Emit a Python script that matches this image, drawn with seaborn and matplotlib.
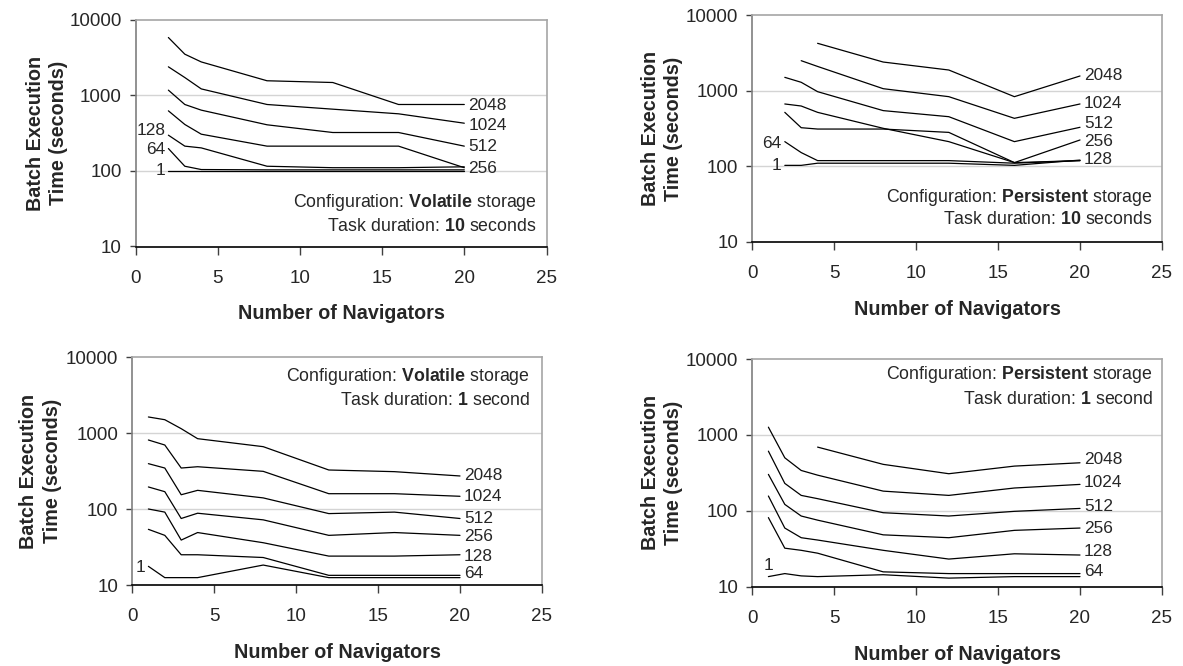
import numpy as np
import pandas as pd
import matplotlib
matplotlib.use("Agg")
import matplotlib.pyplot as plt
from matplotlib.ticker import NullLocator
import seaborn as sns

# ---------------- data ----------------
tasks = [2048, 1024, 512, 256, 128, 64, 1]
nav_10s = [2, 3, 4, 8, 12, 16, 20]
nav_1s = [1, 2, 3, 4, 8, 12, 16, 20]
nan = np.nan

# Volatile storage, 10 s tasks
vol10_2048 = [5780, 3480, 2750, 1550, 1470, 753, 753]
vol10_1024 = [2370, 1710, 1210, 753, 653, 567, 426]
vol10_512 = [1165, 753, 634, 406, 321, 321, 212]
vol10_256 = [621, 410, 305, 212, 212, 212, 110]
vol10_128 = [296, 212, 201, 115, 110, 110, 113]
vol10_64 = [197, 115, 104, 103, 103, 103, 103]
vol10_1 = [101, 101, 101, 101, 101, 101, 101]

# Persistent storage, 10 s tasks
per10_2048 = [nan, nan, 4225, 2390, 1875, 833, 1563]
per10_1024 = [nan, 2490, 2090, 1062, 833, 431, 667]
per10_512 = [1500, 1290, 970, 545, 453, 212, 328]
per10_256 = [667, 627, 517, 318, 212, 112, 223]
per10_128 = [517, 324, 311, 311, 281, 112, 119]
per10_64 = [212, 152, 119, 119, 119, 110, 119]
per10_1 = [103, 103, 110, 110, 110, 103, 121]

# Volatile storage, 1 s tasks
vol1_2048 = [1625, 1496, 1140, 842, 661, 326, 310, 272]
vol1_1024 = [809, 695, 346, 360, 313, 159, 159, 147]
vol1_512 = [395, 346, 154, 176, 140, 87, 91, 75]
vol1_256 = [195, 169, 75, 88, 72, 45, 49, 45]
vol1_128 = [100, 91, 39, 49, 36, 24, 24, 25]
vol1_64 = [54, 45, 25, 25, 23, 13.4, 13.4, 13.4]
vol1_1 = [17.6, 12.5, 12.5, 12.5, 18.3, 12.5, 12.5, 12.5]

# Persistent storage, 1 s tasks
per1_2048 = [nan, nan, nan, 689, 408, 307, 387, 428]
per1_1024 = [1262, 498, 339, 294, 181, 159, 199, 222]
per1_512 = [609, 229, 159, 144, 94, 85, 98, 107]
per1_256 = [301, 121, 85, 75, 48, 44, 55, 59]
per1_128 = [156, 59, 44, 41, 30, 23, 27, 26]
per1_64 = [81, 32, 30, 27.5, 15.6, 14.8, 14.8, 14.8]
per1_1 = [13.5, 14.8, 13.8, 13.5, 14.3, 12.9, 13.5, 13.5]

y_ticks = [10, 100, 1000, 10000]
y_tick_labels = ["10", "100", "1000", "10000"]
x_ticks = [0, 5, 10, 15, 20, 25]

panels = [
    dict(x=nav_10s, series=[vol10_2048, vol10_1024, vol10_512, vol10_256, vol10_128, vol10_64, vol10_1],
         storage="Volatile", dur="10", unit="seconds",
         right=[(2048, 1), (1024, 2), (512, 0.7), (256, 0.7)],
         left=[(128, -5, "r"), (64, 1, "r"), (1, 0, "r")],
         pos=[135.5, 19.5, 546.5, 246.5], ann_y=(0.196, 0.086), ann_inset=9.5, ylx=-0.164),
    dict(x=nav_10s, series=[per10_2048, per10_1024, per10_512, per10_256, per10_128, per10_64, per10_1],
         storage="Persistent", dur="10", unit="seconds",
         right=[(2048, 0), (1024, 0), (512, -4), (256, 1.7), (128, -0.7)],
         left=[(64, 2.3, "r"), (1, 0, "r")],
         pos=[752, 15, 1162, 242], ann_y=(0.194, 0.097), ann_inset=9, ylx=-0.168),
    dict(x=nav_1s, series=[vol1_2048, vol1_1024, vol1_512, vol1_256, vol1_128, vol1_64, vol1_1],
         storage="Volatile", dur="1", unit="second",
         right=[(2048, 0), (1024, 0), (512, 0), (256, 1.3), (128, 1.7), (64, -1.7)],
         left=[(1, 1.3, "r")],
         pos=[132, 357, 542, 585], ann_y=(0.914, 0.811), ann_inset=12, ylx=-0.171),
    dict(x=nav_1s, series=[per1_2048, per1_1024, per1_512, per1_256, per1_128, per1_64, per1_1],
         storage="Persistent", dur="1", unit="second",
         right=[(2048, -3.3), (1024, -1.7), (512, -2.3), (256, 0), (128, -4), (64, -1.7)],
         left=[(1, -11, "c")],
         pos=[752, 359, 1162, 586.5], ann_y=(0.93, 0.823), ann_inset=9, ylx=-0.168),
]

# ---------------- style ----------------
sns.set_theme(style="white")
plt.rcParams["font.family"] = ["Liberation Sans", "DejaVu Sans"]
plt.rcParams["mathtext.fontset"] = "custom"
plt.rcParams["mathtext.rm"] = "Liberation Sans"
plt.rcParams["mathtext.bf"] = "Liberation Sans:bold"

W, H = 1183, 666
fig = plt.figure(figsize=(W / 100, H / 100), dpi=100)
PX = 72 / 100  # points per pixel

for p in panels:
    l, t, r, b = p["pos"]
    ax = fig.add_axes([l / W, 1 - b / H, (r - l) / W, (b - t) / H])
    rows = []
    for task, vals in zip(tasks, p["series"]):
        for xv, yv in zip(p["x"], vals):
            if not np.isnan(yv):
                rows.append(dict(nav=xv, time=yv, tasks=task))
    df = pd.DataFrame(rows)
    ax.grid(False)
    for yv in [100, 1000]:
        ax.axhline(yv, color="#d4d4d4", lw=1.0, zorder=0)
    sns.lineplot(data=df, x="nav", y="time", units="tasks", estimator=None,
                 color="black", lw=0.9, ax=ax, legend=False, sort=True)
    ax.set_yscale("log")
    ax.set_ylim(10, 10000)
    ax.set_xlim(0, 25)
    ax.set_yticks(y_ticks)
    ax.set_yticklabels(y_tick_labels)
    ax.yaxis.set_minor_locator(NullLocator())
    ax.set_xticks(x_ticks)
    ax.set_xticklabels([str(v) for v in x_ticks])
    ax.tick_params(axis="y", which="major", direction="out", length=4.3, width=1,
                   color="#404040", pad=5.6, labelsize=13.5, left=True)
    ax.tick_params(axis="x", which="major", direction="out", length=5.4, width=1,
                   color="#404040", pad=11.5, labelsize=13.5, bottom=True)
    for side, col in [("left", "#7f7f7f"), ("bottom", "#000000"), ("top", "#a6a6a6"), ("right", "#a6a6a6")]:
        ax.spines[side].set_visible(True)
        ax.spines[side].set_color(col)
        ax.spines[side].set_linewidth(1.2)

    ax.set_ylabel("Batch Execution\nTime (seconds)", fontsize=14.2, fontweight="bold",
                  multialignment="center", linespacing=1.3)
    ax.yaxis.set_label_coords(p["ylx"], 0.5)
    ax.set_xlabel("Number of Navigators", fontsize=14.2, fontweight="bold")
    ax.xaxis.set_label_coords(0.5, -0.255)

    # series labels
    last = {task: (p["x"][-1], vals[-1]) for task, vals in zip(tasks, p["series"])}
    first = {}
    for task, vals in zip(tasks, p["series"]):
        for xv, yv in zip(p["x"], vals):
            if not np.isnan(yv):
                first[task] = (xv, yv)
                break
    for task, dy in p["right"]:
        ax.annotate(str(task), xy=last[task], xytext=(4 * PX, -dy * PX),
                    textcoords="offset points", ha="left", va="center", fontsize=12.4)
    for task, dy, mode in p["left"]:
        if mode == "r":
            ax.annotate(str(task), xy=first[task], xytext=(-3 * PX, -dy * PX),
                        textcoords="offset points", ha="right", va="center", fontsize=12.4)
        else:
            ax.annotate(str(task), xy=first[task], xytext=(0, -dy * PX),
                        textcoords="offset points", ha="center", va="center", fontsize=12.4)

    # configuration annotation
    xr = 1 - p["ann_inset"] / (r - l)
    ax.text(xr, p["ann_y"][0], "Configuration: $\\mathbf{" + p["storage"] + "}$ storage",
            transform=ax.transAxes, ha="right", va="center", fontsize=12.8)
    ax.text(xr, p["ann_y"][1], "Task duration: $\\mathbf{" + p["dur"] + "}$ " + p["unit"],
            transform=ax.transAxes, ha="right", va="center", fontsize=12.8)

fig.savefig("out.png", dpi=100)
